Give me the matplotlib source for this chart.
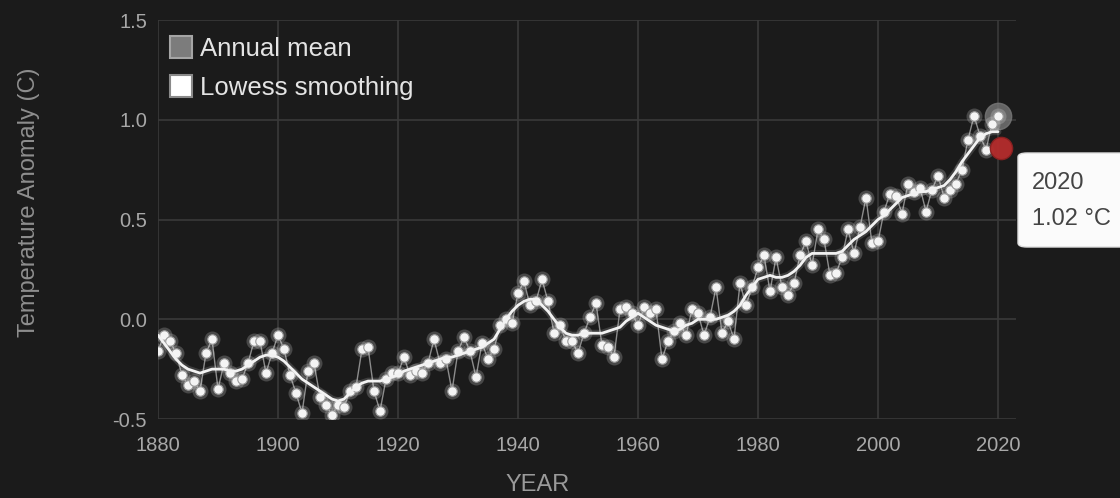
import matplotlib
matplotlib.use("Agg")
import matplotlib.pyplot as plt
from matplotlib.lines import Line2D
from matplotlib.patches import FancyBboxPatch
import numpy as np

plt.rcParams['font.family'] = ['Liberation Sans', 'DejaVu Sans']

years = list(range(1880, 2021))
annual_mean = [
    -0.16, -0.08, -0.11, -0.17, -0.28, -0.33, -0.31, -0.36, -0.17, -0.10,
    -0.35, -0.22, -0.27, -0.31, -0.30, -0.22, -0.11, -0.11, -0.27, -0.17,
    -0.08, -0.15, -0.28, -0.37, -0.47, -0.26, -0.22, -0.39, -0.43, -0.48,
    -0.43, -0.44, -0.36, -0.34, -0.15, -0.14, -0.36, -0.46, -0.30, -0.27,
    -0.27, -0.19, -0.28, -0.26, -0.27, -0.22, -0.10, -0.22, -0.20, -0.36,
    -0.16, -0.09, -0.16, -0.29, -0.12, -0.20, -0.15, -0.03, -0.00, -0.02,
    0.13, 0.19, 0.07, 0.09, 0.20, 0.09, -0.07, -0.03, -0.11, -0.11,
    -0.17, -0.07, 0.01, 0.08, -0.13, -0.14, -0.19, 0.05, 0.06, 0.03,
    -0.03, 0.06, 0.03, 0.05, -0.20, -0.11, -0.06, -0.02, -0.08, 0.05,
    0.03, -0.08, 0.01, 0.16, -0.07, -0.01, -0.10, 0.18, 0.07, 0.16,
    0.26, 0.32, 0.14, 0.31, 0.16, 0.12, 0.18, 0.32, 0.39, 0.27,
    0.45, 0.40, 0.22, 0.23, 0.31, 0.45, 0.33, 0.46, 0.61, 0.38,
    0.39, 0.54, 0.63, 0.62, 0.53, 0.68, 0.64, 0.66, 0.54, 0.65,
    0.72, 0.61, 0.65, 0.68, 0.75, 0.90, 1.02, 0.92, 0.85, 0.98,
    1.02,
]
lowess = [
    -0.08, -0.12, -0.16, -0.20, -0.23, -0.25, -0.26, -0.27, -0.26, -0.25,
    -0.25, -0.25, -0.26, -0.26, -0.25, -0.23, -0.21, -0.19, -0.18, -0.18,
    -0.19, -0.21, -0.24, -0.27, -0.30, -0.32, -0.34, -0.36, -0.38, -0.40,
    -0.41, -0.40, -0.37, -0.34, -0.32, -0.31, -0.31, -0.31, -0.30, -0.29,
    -0.28, -0.26, -0.25, -0.24, -0.23, -0.22, -0.21, -0.20, -0.19, -0.19,
    -0.18, -0.17, -0.16, -0.15, -0.14, -0.12, -0.10, -0.05, 0.00, 0.04,
    0.07, 0.09, 0.10, 0.10, 0.07, 0.04, 0.00, -0.04, -0.07, -0.08,
    -0.08, -0.07, -0.07, -0.07, -0.07, -0.06, -0.05, -0.04, -0.01, 0.01,
    0.03, 0.01, -0.01, -0.03, -0.04, -0.05, -0.06, -0.05, -0.03, -0.02,
    0.00, 0.00, 0.00, 0.00, 0.01, 0.02, 0.04, 0.07, 0.12, 0.16,
    0.20, 0.21, 0.22, 0.21, 0.21, 0.22, 0.24, 0.27, 0.31, 0.33,
    0.33, 0.33, 0.33, 0.33, 0.34, 0.37, 0.40, 0.42, 0.44, 0.47,
    0.50, 0.52, 0.55, 0.58, 0.61, 0.62, 0.63, 0.64, 0.64, 0.65,
    0.66, 0.67, 0.70, 0.74, 0.79, 0.83, 0.87, 0.91, 0.93, 0.94,
    0.94,
]
hover_year = 2020
hover_value = 1.02
red_marker_value = 0.86
x_ticks = [1880, 1900, 1920, 1940, 1960, 1980, 2000, 2020]
y_ticks = [-0.5, 0.0, 0.5, 1.0, 1.5]

BG = '#1b1b1b'
GRID = '#3a3a3a'
TICK = '#a8a8a8'

fig = plt.figure(figsize=(11.2, 4.98), dpi=100, facecolor=BG)
ax = fig.add_axes([158 / 1120, 79 / 498, 858 / 1120, 399 / 498], facecolor=BG)

ax.set_xlim(1880, 2023)
ax.set_ylim(-0.5, 1.5)
ax.set_xticks(x_ticks)
ax.set_yticks(y_ticks)
ax.set_yticklabels([f"{v:.1f}" for v in y_ticks])
ax.grid(True, color=GRID, lw=1.2)
ax.set_axisbelow(True)
for s in ax.spines.values():
    s.set_visible(False)
ax.tick_params(length=0, colors=TICK, labelsize=14.5)
ax.tick_params(axis='x', pad=12)
ax.tick_params(axis='y', pad=8)

# hover gray circle
ax.plot([hover_year], [hover_value], 'o', ms=19, color='#777777', alpha=0.8, zorder=2)

# annual mean line + dots
ax.plot(years, annual_mean, '-', color='#8c8c8c', lw=1.0, zorder=3)
ax.plot(years, annual_mean, 'o', ms=11.5, color='white', alpha=0.2, mec='none', zorder=4)
ax.plot(years, annual_mean, 'o', ms=6.8, mfc='#f4f4f4', mec='#9a9a9a', mew=0.8, zorder=5)

# lowess line
ax.plot(years, lowess, '-', color='white', lw=5, alpha=0.15, zorder=6, solid_capstyle='round')
ax.plot(years, lowess, '-', color='#f2f2f2', lw=2.0, zorder=7, solid_capstyle='round')

# red highlight
ax.plot([hover_year + 0.5], [red_marker_value], 'o', ms=16, color='#b52c2c', alpha=0.95,
        mec='#8a2020', zorder=8)

ax.set_ylabel('Temperature Anomaly (C)', color='#8e8e8e', fontsize=17)
ax.yaxis.set_label_coords(-0.137, 0.544)
ax.set_xlabel('YEAR', color='#9a9a9a', fontsize=17)
ax.xaxis.set_label_coords(0.443, -0.138)

handles = [
    Line2D([], [], marker='s', ls='none', ms=15.5, mfc='#7c7c7c', mec='#a5a5a5', mew=1.5),
    Line2D([], [], marker='s', ls='none', ms=15.5, mfc='#ffffff', mec='#8a8a8a', mew=1.5),
]
leg = ax.legend(handles, ['Annual mean', 'Lowess smoothing'], loc='upper left',
                bbox_to_anchor=(170 / 1120, 1 - 37 / 498), bbox_transform=fig.transFigure,
                frameon=False, fontsize=18.5, labelcolor='#e4e4e4', handlelength=0.85,
                handletextpad=0.3, labelspacing=0.6, borderpad=0, borderaxespad=0)

# tooltip
box = FancyBboxPatch((1018 / 1120, 1 - 247 / 498), 0.2, 94 / 498,
                     boxstyle='round,pad=0,rounding_size=0.008', transform=fig.transFigure,
                     facecolor='#fbfbfb', edgecolor='#dddddd', lw=1, zorder=20, clip_on=False)
fig.patches.append(box)
fig.text(1032 / 1120, 1 - 183 / 498, f"{hover_year}", color='#444444', fontsize=17,
         va='center', ha='left', zorder=21)
fig.text(1032 / 1120, 1 - 219 / 498, f"{hover_value:.2f} °C", color='#444444', fontsize=17,
         va='center', ha='left', zorder=21)

fig.savefig('out.png', dpi=100, facecolor=BG)
